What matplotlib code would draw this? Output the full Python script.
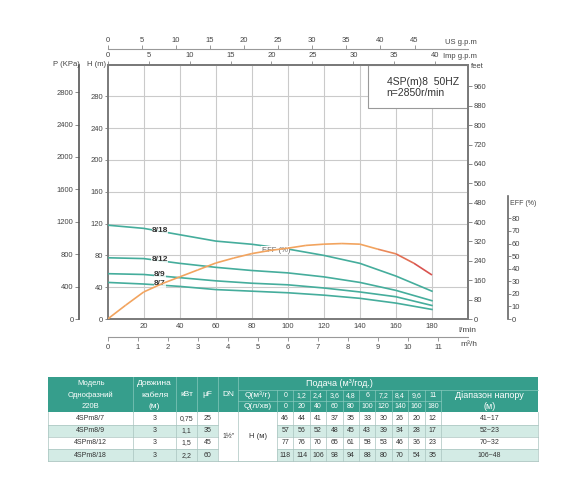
import numpy as np
import matplotlib
matplotlib.use("Agg")
import matplotlib.pyplot as plt
from matplotlib.patches import Rectangle
from matplotlib.collections import LineCollection
from matplotlib.colors import to_rgb

plt.rcParams['font.family'] = ['Liberation Sans', 'DejaVu Sans']

# ---- data ----
q_lpm = [0, 20, 40, 60, 80, 100, 120, 140, 160, 180]
q_m3h = ['0', '1,2', '2,4', '3,6', '4,8', '6', '7,2', '8,4', '9,6', '11']
models = ['4SPm8/7', '4SPm8/9', '4SPm8/12', '4SPm8/18']
curve_names = ['8/7', '8/9', '8/12', '8/18']
cable = ['3', '3', '3', '3']
kw = ['0,75', '1,1', '1,5', '2,2']
uf = ['25', '35', '45', '60']
head = [
    [46, 44, 41, 37, 35, 33, 30, 26, 20, 12],
    [57, 56, 52, 48, 45, 43, 39, 34, 28, 17],
    [77, 76, 70, 65, 61, 58, 53, 46, 36, 23],
    [118, 114, 106, 98, 94, 88, 80, 70, 54, 35],
]
head_range = ['41~17', '52~23', '70~32', '106~48']
eff_q = [0, 10, 20, 30, 40, 50, 60, 70, 80, 90, 100, 110, 120, 130, 140, 150, 160, 170, 180]
eff = [0, 11, 21.5, 28, 33.5, 39, 44.5, 48.5, 52, 54.5, 56.3, 58.5, 59.5, 60, 59.5, 55.5, 51.8, 44.3, 35]

teal = '#45ad9c'
orange = '#f2a45f'
red = '#d9534f'
txt = '#444444'

W, H = 570, 479
fig = plt.figure(figsize=(W / 100, H / 100), dpi=100)


def fx(x):
    return x / W


def fy(y):
    return 1 - y / H


ax = fig.add_axes([fx(107.7), fy(319), fx(468) - fx(107.7), fy(64.6) - fy(319)])
ax.set_xlim(0, 200)
ax.set_ylim(0, 320)
ax.set_xticks(range(20, 200, 20))
ax.set_yticks(range(0, 320, 40))
ax.grid(True, color='#cacaca', lw=0.8)
for s in ax.spines.values():
    s.set_color('#7a7a7a')
    s.set_linewidth(1.4)
ax.tick_params(axis='x', length=0, pad=3, labelsize=5.5, labelcolor=txt)
ax.tick_params(axis='y', length=2, width=0.6, pad=1.5, labelsize=5.5,
               labelcolor=txt, color='#777')

for name, h in zip(curve_names, head):
    ax.plot(q_lpm, h, color=teal, lw=1.2, zorder=3)
    ax.text(29, np.interp(29, q_lpm, h) + 1.5, name, ha='center', va='center',
            fontsize=6, fontweight='bold', color='#333', zorder=5,
            bbox=dict(fc='white', ec='none', alpha=0.8, pad=0.2))

# title box
ax.add_patch(Rectangle((144.6, 265.8), 55.4, 54.2, fc='white', ec='#999', lw=0.8, zorder=2))
ax.text(154.8, 297.5, '4SP(m)8  50HZ', fontsize=7.5, color='#333', va='center', zorder=3)
ax.text(154.8, 284.7, 'n=2850r/min', fontsize=7.5, color='#333', va='center', zorder=3)

# efficiency
ax_e = ax.twinx()
ax_e.set_ylim(0, 320 / 1.582)
ax_e.spines['right'].set_position(('axes', 1.110))
ax_e.spines['right'].set_bounds(0, 98)
ax_e.spines['right'].set_color('#666')
ax_e.spines['right'].set_linewidth(1.2)
for s in ['left', 'top', 'bottom']:
    ax_e.spines[s].set_visible(False)
ax_e.set_yticks(range(0, 90, 10))
ax_e.tick_params(axis='y', length=2, width=0.6, pad=1, labelsize=5.5,
                 labelcolor=txt, color='#777')
pts = np.column_stack([eff_q, eff])
segs = np.stack([pts[:-1], pts[1:]], axis=1)
o, r = np.array(to_rgb(orange)), np.array(to_rgb(red))
cols = []
for q in eff_q[:-1]:
    t = np.clip((q - 140) / 30, 0, 1)
    cols.append(o * (1 - t) + r * t)
ax_e.add_collection(LineCollection(segs, colors=cols, lw=1.2, zorder=3))
ax.text(85.5, 86.5, 'EFF (%)', fontsize=5.5, color='#666', va='center', zorder=5,
        bbox=dict(fc='white', ec='none', pad=0.3))

# secondary scales
sec_p = ax.secondary_yaxis(-0.0797, functions=(lambda h: h * 9.81, lambda p: p / 9.81))
sec_p.set_yticks(range(0, 3200, 400))
sec_p.spines['left'].set_color('#555')
sec_p.spines['left'].set_linewidth(1.2)
sec_p.tick_params(length=3, width=0.6, pad=1, labelsize=5.5, labelcolor=txt, color='#777')

sec_f = ax.secondary_yaxis('right', functions=(lambda h: h * 3.281, lambda f: f / 3.281))
sec_f.set_yticks(range(0, 1040, 80))
sec_f.spines['right'].set_color('#7a7a7a')
sec_f.spines['right'].set_linewidth(1.4)
sec_f.tick_params(length=3, width=0.6, pad=1, labelsize=5.5, labelcolor=txt, color='#777')

sec_imp = ax.secondary_xaxis('top', functions=(lambda q: q / 4.546, lambda g: g * 4.546))
sec_imp.set_xticks(range(0, 45, 5))
sec_imp.spines['top'].set_color('#7a7a7a')
sec_imp.spines['top'].set_linewidth(1.4)
sec_imp.tick_params(length=3, width=0.6, pad=1, labelsize=5.5, labelcolor=txt, color='#888')

sec_us = ax.secondary_xaxis(1.060, functions=(lambda q: q / 3.785, lambda g: g * 3.785))
sec_us.set_xticks(range(0, 50, 5))
sec_us.spines['top'].set_color('#999')
sec_us.spines['top'].set_linewidth(0.8)
sec_us.tick_params(length=3, width=0.6, pad=1, labelsize=5.5, labelcolor=txt, color='#888')

sec_m = ax.secondary_xaxis(-0.072, functions=(lambda q: q * 0.06, lambda m: m / 0.06))
sec_m.set_xticks(range(0, 12))
sec_m.spines['bottom'].set_color('#999')
sec_m.spines['bottom'].set_linewidth(0.8)
sec_m.tick_params(length=3, width=0.6, pad=1.5, labelsize=5.5, labelcolor=txt, color='#888')

lab = dict(fontsize=5.5, color=txt, va='center')
fig.text(fx(66), fy(65), 'P (KPa)', ha='center', **lab)
fig.text(fx(96.7), fy(64.5), 'H (m)', ha='center', **lab)
fig.text(fx(445), fy(43), 'US g.p.m', ha='left', **lab)
fig.text(fx(443), fy(56), 'Imp g.p.m', ha='left', **lab)
fig.text(fx(471), fy(66), 'feet', ha='left', **lab)
fig.text(fx(458), fy(330), 'l/min', ha='left', fontsize=6, color=txt, va='center')
fig.text(fx(460), fy(345), 'm³/h', ha='left', fontsize=6, color=txt, va='center')
fig.text(fx(510), fy(204), 'EFF (%)', ha='left', fontsize=5, color=txt, va='center')

# ---- table ----
tx = fig.add_axes([0, 0, 1, 1])
tx.set_xlim(0, W)
tx.set_ylim(H, 0)
tx.axis('off')

hdr = '#369e8c'
alt = '#d3ebe5'
hline = '#86c9bc'
gline = '#a9c4bf'
qe = list(np.linspace(277, 441, len(q_lpm) + 1))
xe = [48.3, 133.3, 175.7, 197.3, 218.3, 238.3] + qe + [537.5]
ye = [377, 390, 401, 412, 424.5, 437, 449, 461.3]


def ctext(x0, x1, y, s, color='white', size=5.5, **kw):
    tx.text((x0 + x1) / 2, y, s, ha='center', va='center', color=color, fontsize=size, **kw)


tx.add_patch(Rectangle((xe[0], ye[0]), xe[-1] - xe[0], ye[3] - ye[0], fc=hdr, ec='none'))
rc = [(ye[i] + ye[i + 1]) / 2 for i in range(len(ye) - 1)]
for s, y in zip(['Модель', 'Однофазний', '220В'], rc[:3]):
    ctext(xe[0], xe[1], y, s)
for s, y in zip(['Довжина', 'кабеля', '(м)'], rc[:3]):
    ctext(xe[1], xe[2], y, s, size=6)
hmid = (ye[0] + ye[3]) / 2
ctext(xe[2], xe[3], hmid, 'кВт', size=6)
ctext(xe[3], xe[4], hmid, 'μF', size=6)
ctext(xe[4], xe[5], hmid, 'DN', size=6)
ctext(xe[5], xe[16], rc[0], 'Подача (м³/год.)', size=6.5)
ctext(xe[5], xe[6], rc[1], 'Q(м³/г)', size=6)
ctext(xe[5], xe[6], rc[2], 'Q(л/хв)', size=6)
for j in range(len(q_lpm)):
    ctext(xe[6 + j], xe[7 + j], rc[1], q_m3h[j], size=5)
    ctext(xe[6 + j], xe[7 + j], rc[2], str(q_lpm[j]), size=5)
ctext(xe[16], xe[17], rc[1], 'Діапазон напору', size=6.5)
ctext(xe[16], xe[17], rc[2], '(м)', size=6.5)

for x in xe[1:6]:
    tx.plot([x, x], [ye[0], ye[3]], color=hline, lw=0.5)
for x in xe[6:17]:
    tx.plot([x, x], [ye[1], ye[3]], color=hline, lw=0.5)
tx.plot([xe[5], xe[-1]], [ye[1], ye[1]], color=hline, lw=0.5)
tx.plot([xe[5], xe[16]], [ye[2], ye[2]], color=hline, lw=0.5)

# data rows
for i in range(len(models)):
    y0, y1 = ye[3 + i], ye[4 + i]
    bg = 'white' if i % 2 == 0 else alt
    tx.add_patch(Rectangle((xe[0], y0), xe[4] - xe[0], y1 - y0, fc=bg, ec='none'))
    tx.add_patch(Rectangle((xe[6], y0), xe[17] - xe[6], y1 - y0, fc=bg, ec='none'))
    ym = (y0 + y1) / 2
    ctext(xe[0], xe[1], ym, models[i], color='#333', size=5)
    ctext(xe[1], xe[2], ym, cable[i], color='#333', size=5)
    ctext(xe[2], xe[3], ym, kw[i], color='#333', size=5)
    ctext(xe[3], xe[4], ym, uf[i], color='#333', size=5)
    for j, v in enumerate(head[i]):
        ctext(xe[6 + j], xe[7 + j], ym, str(v), color='#333', size=5)
    ctext(xe[16], xe[17], ym, head_range[i], color='#333', size=5)
tx.add_patch(Rectangle((xe[4], ye[3]), xe[6] - xe[4], ye[7] - ye[3], fc='white', ec='none'))
dm = (ye[3] + ye[7]) / 2
ctext(xe[4], xe[5], dm, '1½"', color='#333', size=5)
ctext(xe[5], xe[6], dm, 'H (м)', color='#333', size=5.5)

for x in xe:
    tx.plot([x, x], [ye[3], ye[7]], color=gline, lw=0.5)
for y in ye[4:7]:
    tx.plot([xe[0], xe[4]], [y, y], color=gline, lw=0.5)
    tx.plot([xe[6], xe[-1]], [y, y], color=gline, lw=0.5)
tx.plot([xe[0], xe[-1]], [ye[7], ye[7]], color=gline, lw=0.6)

fig.savefig('out.png', dpi=100)
